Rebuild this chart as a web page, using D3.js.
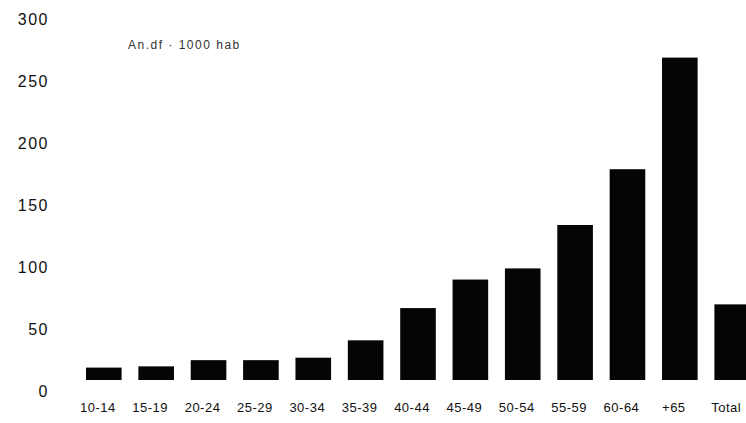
<!DOCTYPE html>
<html>
<head>
<meta charset="utf-8">
<script src="https://cdn.jsdelivr.net/npm/d3@7"></script>
<style>
	body { margin: 0; background: #fff; }
	text { font-family: "Liberation Sans", Arial, sans-serif; fill: #111; }
	.axis path, .axis line { display: none; }
</style>
</head>
<body>
<div id="chart"></div>
<script>
// Data
var ageGroups = ["10-14", "15-19", "20-24", "25-29", "30-34", "35-39", "40-44",
	"45-49", "50-54", "55-59", "60-64", "+65", "Total"];
var rates = [10, 11, 16, 16, 18, 32, 58, 81, 90, 125, 170, 260, 61];
var yTicks = [0, 50, 100, 150, 200, 250, 300];
var note = "An.df \u00b7 1000 hab";

// Globals
var width = 746;
var height = 423;
var svg = d3.select("#chart")
	.append("svg")
	.attr("width", width)
	.attr("height", height);

var margin = {t:8, r:-4, b:43, l:86};

// Functions
function DrawBars() {
	var xAxis = d3.scaleBand()
		.range([margin.l, width - margin.r])
		.domain(ageGroups)
		.paddingInner(0.32)
		.paddingOuter(0);

	var yAxis = d3.scaleLinear()
		.range([height - margin.b, margin.t])
		.domain([0, 300]);

	svg.selectAll(".bar")
		.data(ageGroups)
		.enter().append("rect")
			.attr("class", "bar")
			.attr("x", function(d) { return xAxis(d); })
			.attr("y", function(d, i) { return yAxis(rates[i]); })
			.attr("width", xAxis.bandwidth())
			.attr("height", function(d, i) { return yAxis(0) - yAxis(rates[i]); })
			.style("fill", "#050505");

	// y labels sit a bit below their value, as in the printed figure
	var gy = svg.append("g")
		.attr("class", "axis axis--y")
		.attr("transform", "translate(49,0)")
		.call(d3.axisLeft(yAxis).tickValues(yTicks).tickSize(0).tickPadding(0));
	gy.selectAll("text")
		.attr("dy", "1.05em")
		.style("font-size", "16px")
		.style("letter-spacing", "1.5px");

	var gx = svg.append("g")
		.attr("class", "axis axis--x")
		.attr("transform", "translate(-6," + (yAxis(0) + 23) + ")")
		.call(d3.axisBottom(xAxis).tickSize(0).tickPadding(0));
	gx.selectAll("text")
		.style("font-size", "13px")
		.style("letter-spacing", "0.5px");

	svg.append("text")
		.attr("x", 128)
		.attr("y", 49)
		.style("font-size", "12px")
		.style("letter-spacing", "1.5px")
		.style("fill", "#333")
		.text(note);

	return;
}

// Main
DrawBars();
</script>
</body>
</html>
